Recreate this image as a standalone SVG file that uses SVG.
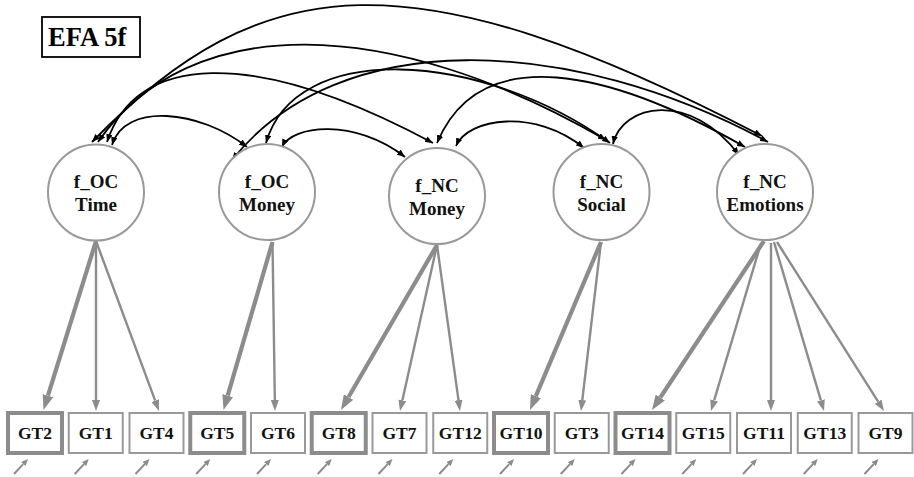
<svg xmlns="http://www.w3.org/2000/svg" width="914" height="477" viewBox="0 0 914 477">
<style>
.bg{fill:#fff}
.lat{fill:#fff;stroke:#999;stroke-width:2}
.lt{font-family:"Liberation Serif",serif;font-weight:bold;font-size:19px;fill:#111;text-anchor:middle}
.mv{fill:#fff;stroke:#999;stroke-width:2}
.mvk{fill:#fff;stroke:#8c8c8c;stroke-width:4}
.mt{font-family:"Liberation Serif",serif;font-weight:bold;font-size:17.5px;fill:#111;text-anchor:middle}
.cov{fill:none;stroke:#000;stroke-width:1.8;marker-start:url(#ah);marker-end:url(#ah)}
.ld{fill:none;stroke:#8c8c8c;stroke-width:2.4;marker-end:url(#lh)}
.ldk{fill:none;stroke:#8c8c8c;stroke-width:4.2;marker-end:url(#lhk)}
.er{fill:none;stroke:#8c8c8c;stroke-width:2;marker-end:url(#eh)}
</style>
<defs>
<marker id="ah" viewBox="0 0 10 8" refX="10" refY="4" markerWidth="8" markerHeight="6.4" markerUnits="userSpaceOnUse" orient="auto-start-reverse"><path d="M0,0 L10,4 L0,8 z" fill="#000"/></marker>
<marker id="lh" viewBox="0 0 11 8" refX="0" refY="4" markerWidth="11" markerHeight="8" markerUnits="userSpaceOnUse" orient="auto"><path d="M0,0 L11,4 L0,8 z" fill="#8c8c8c"/></marker>
<marker id="lhk" viewBox="0 0 15 11" refX="0" refY="5.5" markerWidth="15" markerHeight="11" markerUnits="userSpaceOnUse" orient="auto"><path d="M0,0 L15,5.5 L0,11 z" fill="#8c8c8c"/></marker>
<marker id="eh" viewBox="0 0 7 6" refX="0" refY="3" markerWidth="7" markerHeight="6" markerUnits="userSpaceOnUse" orient="auto"><path d="M0,0 L7,3 L0,6 z" fill="#8c8c8c"/></marker>
</defs>
<rect class="bg" x="0" y="0" width="914" height="477"/>

<g id="title">
<rect x="42" y="17" width="98" height="40" fill="#fff" stroke="#000" stroke-width="1.8"/>
<text x="48" y="46" font-family="Liberation Serif, serif" font-weight="bold" font-size="26.5px" fill="#000">EFA 5f</text>
</g>

<g id="connectors">
<!-- covariances -->
<path class="cov" d="M112,145 C125,102 200,110 247,147"/>
<path class="cov" d="M282,147 C292,125 355,118 405,157"/>
<path class="cov" d="M456,146 C468,118 535,108 584,148"/>
<path class="cov" d="M613,144 C622,104 690,90 739,155"/>
<path class="cov" d="M107,142 C135,55 250,45 433,143"/>
<path class="cov" d="M98,142 C190,10 390,15 606,140"/>
<path class="cov" d="M92,142 C262,-33 412,-46 762,136"/>
<path class="cov" d="M232,160 C340,25 570,35 768,142"/>
<path class="cov" d="M266,143 C295,40 480,50 610,143"/>
<path class="cov" d="M437,143 C480,40 610,70 745,147"/>
<!-- loadings -->
<path class="ldk" d="M96,241 L47.95,395.68"/>
<path class="ld" d="M96,241 L96,400"/>
<path class="ld" d="M96,241 L155.18,400.69"/>
<path class="ldk" d="M272.5,242 L227.7,395.6"/>
<path class="ld" d="M272.5,242 L274.84,400"/>
<path class="ldk" d="M437,245 L348.54,397.04"/>
<path class="ld" d="M437,245 L402.39,400.26"/>
<path class="ld" d="M437,245 L458.49,400.1"/>
<path class="ldk" d="M601,242 L535.84,396.18"/>
<path class="ld" d="M601,242 L582.29,400.08"/>
<path class="ldk" d="M764,241 L660.29,397.5"/>
<path class="ld" d="M761,243 L714.14,400.46"/>
<path class="ld" d="M771,243 L771,400"/>
<path class="ld" d="M774,242 L820.88,400.45"/>
<path class="ld" d="M777,242 L878.12,401.71"/>
<!-- residual arrows -->
<path class="er" d="M14,474 L23.22,464.12"/>
<path class="er" d="M74.75,474 L83.97,464.12"/>
<path class="er" d="M135.5,474 L144.72,464.12"/>
<path class="er" d="M196.25,474 L205.47,464.12"/>
<path class="er" d="M257,474 L266.22,464.12"/>
<path class="er" d="M317.75,474 L326.97,464.12"/>
<path class="er" d="M378.5,474 L387.72,464.12"/>
<path class="er" d="M439.25,474 L448.47,464.12"/>
<path class="er" d="M500,474 L509.22,464.12"/>
<path class="er" d="M560.75,474 L569.97,464.12"/>
<path class="er" d="M621.5,474 L630.72,464.12"/>
<path class="er" d="M682.25,474 L691.47,464.12"/>
<path class="er" d="M743,474 L752.22,464.12"/>
<path class="er" d="M803.75,474 L812.97,464.12"/>
<path class="er" d="M864.5,474 L873.72,464.12"/>
</g>

<g id="f_OC_Time"><circle class="lat" cx="96" cy="192.5" r="48"/><text class="lt" x="96" y="188">f_OC</text><text class="lt" x="96" y="211">Time</text></g>
<g id="f_OC_Money"><circle class="lat" cx="267" cy="192" r="48"/><text class="lt" x="267" y="188">f_OC</text><text class="lt" x="267" y="211">Money</text></g>
<g id="f_NC_Money"><circle class="lat" cx="437" cy="196" r="48"/><text class="lt" x="437" y="192">f_NC</text><text class="lt" x="437" y="215">Money</text></g>
<g id="f_NC_Social"><circle class="lat" cx="601.5" cy="192" r="48"/><text class="lt" x="601.5" y="188">f_NC</text><text class="lt" x="601.5" y="211">Social</text></g>
<g id="f_NC_Emotions"><circle class="lat" cx="765" cy="192" r="48"/><text class="lt" x="765" y="188">f_NC</text><text class="lt" x="765" y="211">Emotions</text></g>

<g id="GT2"><rect class="mvk" x="8" y="413" width="54" height="40"/><text class="mt" x="35" y="439">GT2</text></g>
<g id="GT1"><rect class="mv" x="68.75" y="413" width="54" height="40"/><text class="mt" x="95.75" y="439">GT1</text></g>
<g id="GT4"><rect class="mv" x="129.5" y="413" width="54" height="40"/><text class="mt" x="156.5" y="439">GT4</text></g>
<g id="GT5"><rect class="mvk" x="190.25" y="413" width="54" height="40"/><text class="mt" x="217.25" y="439">GT5</text></g>
<g id="GT6"><rect class="mv" x="251" y="413" width="54" height="40"/><text class="mt" x="278" y="439">GT6</text></g>
<g id="GT8"><rect class="mvk" x="311.75" y="413" width="54" height="40"/><text class="mt" x="338.75" y="439">GT8</text></g>
<g id="GT7"><rect class="mv" x="372.5" y="413" width="54" height="40"/><text class="mt" x="399.5" y="439">GT7</text></g>
<g id="GT12"><rect class="mv" x="433.25" y="413" width="54" height="40"/><text class="mt" x="460.25" y="439">GT12</text></g>
<g id="GT10"><rect class="mvk" x="494" y="413" width="54" height="40"/><text class="mt" x="521" y="439">GT10</text></g>
<g id="GT3"><rect class="mv" x="554.75" y="413" width="54" height="40"/><text class="mt" x="581.75" y="439">GT3</text></g>
<g id="GT14"><rect class="mvk" x="615.5" y="413" width="54" height="40"/><text class="mt" x="642.5" y="439">GT14</text></g>
<g id="GT15"><rect class="mv" x="676.25" y="413" width="54" height="40"/><text class="mt" x="703.25" y="439">GT15</text></g>
<g id="GT11"><rect class="mv" x="737" y="413" width="54" height="40"/><text class="mt" x="764" y="439">GT11</text></g>
<g id="GT13"><rect class="mv" x="797.75" y="413" width="54" height="40"/><text class="mt" x="824.75" y="439">GT13</text></g>
<g id="GT9"><rect class="mv" x="858.5" y="413" width="54" height="40"/><text class="mt" x="885.5" y="439">GT9</text></g>
</svg>
